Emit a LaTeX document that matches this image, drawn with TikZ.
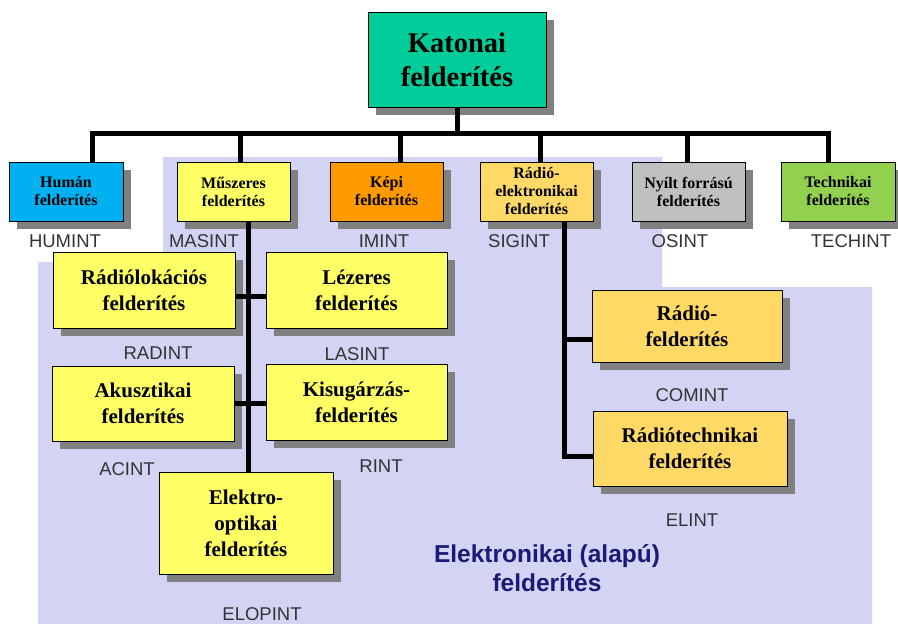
\documentclass[tikz,border=0pt]{standalone}
\usepackage{fontspec}
\setmainfont{Liberation Serif}
\setsansfont{Liberation Sans}
\usetikzlibrary{shadows}
\definecolor{lav}{RGB}{211,211,243}
\definecolor{shadowgray}{RGB}{128,128,128}
\definecolor{teal1}{RGB}{0,204,153}
\definecolor{cyan1}{RGB}{0,176,240}
\definecolor{yel}{RGB}{255,255,102}
\definecolor{orng}{RGB}{255,153,0}
\definecolor{gold}{RGB}{255,217,102}
\definecolor{grey1}{RGB}{192,192,192}
\definecolor{grn}{RGB}{146,208,80}
\definecolor{lblgray}{RGB}{51,51,51}
\definecolor{navy1}{RGB}{26,26,120}
\begin{document}
\begin{tikzpicture}[x=1pt,y=-1pt,
  box/.style={draw=black, line width=0.8pt, inner sep=0pt, align=center,
    drop shadow={shadow xshift=8pt,shadow yshift=-8pt,fill=shadowgray,opacity=1}},
  big/.style={font=\fontsize{28.5}{34}\selectfont\bfseries},
  mid/.style={font=\fontsize{16}{18}\selectfont\bfseries},
  sub/.style={font=\fontsize{21}{26}\selectfont\bfseries},
  lbl/.style={font=\sffamily\fontsize{18.5}{20}\selectfont, text=lblgray, inner sep=0pt},
  conn/.style={line width=5pt, draw=black, line join=miter}]
\useasboundingbox (0,0) rectangle (898,624);
% background region
\fill[lav] (163,157) -- (662,157) -- (662,287) -- (872,287) -- (872,624)
  -- (38,624) -- (38,262) -- (163,262) -- cycle;

% top
\node[box, big, fill=teal1, minimum width=178pt, minimum height=95pt] (kat) at (457,59.5) {Katonai\\felderítés};

% level 2
\node[box, mid, fill=cyan1, minimum width=114pt, minimum height=59pt] (hum) at (66,191.5) {Humán\\felderítés};
\node[box, mid, fill=yel, minimum width=113pt, minimum height=59pt] (mus) at (233.5,191.5) {Műszeres\\felderítés};
\node[box, mid, fill=orng, minimum width=113pt, minimum height=59pt] (kep) at (386.5,191.5) {Képi\\felderítés};
\node[box, mid, fill=gold, minimum width=113pt, minimum height=59pt] (rel) at (536.5,191.5) {Rádió-\\elektronikai\\felderítés};
\node[box, mid, fill=grey1, minimum width=113pt, minimum height=59pt] (nyi) at (688.5,191.5) {Nyílt forrású\\felderítés};
\node[box, mid, fill=grn, minimum width=114pt, minimum height=59pt] (tec) at (838,191.5) {Technikai\\felderítés};

% level 3 left
\node[box, sub, fill=yel, minimum width=182pt, minimum height=76pt] (rad) at (144,290) {Rádiólokációs\\felderítés};
\node[box, sub, fill=yel, minimum width=181pt, minimum height=76pt] (lez) at (356.5,290) {Lézeres\\felderítés};
\node[box, sub, fill=yel, minimum width=182pt, minimum height=75pt] (aku) at (143,403.5) {Akusztikai\\felderítés};
\node[box, sub, fill=yel, minimum width=181pt, minimum height=76pt] (kis) at (356.5,402) {Kisugárzás-\\felderítés};
\node[box, sub, fill=yel, minimum width=174pt, minimum height=102pt] (elo) at (246,523) {Elektro-\\optikai\\felderítés};

% level 3 right
\node[box, sub, fill=gold, minimum width=190pt, minimum height=72pt] (rf) at (687,326) {Rádió-\\felderítés};
\node[box, sub, fill=gold, minimum width=194pt, minimum height=75pt] (rt) at (690,448.5) {Rádiótechnikai\\felderítés};

% connectors
\coordinate (bL) at (92,133);
\coordinate (bR) at (828,133);
\draw[conn] (hum.north -| bL) -- (bL) -- (bR) -- (tec.north -| bR);
\draw[conn] (kat.south) -- (kat.south |- bL);
\coordinate (mt) at ([xshift=6.5pt]mus.north);
\coordinate (kt) at ([xshift=13.5pt]kep.north);
\coordinate (rlt) at ([xshift=3.5pt]rel.north);
\coordinate (nt) at ([xshift=-1.5pt]nyi.north);
\draw[conn] (mt) -- (mt |- bL);
\draw[conn] (kt) -- (kt |- bL);
\draw[conn] (rlt) -- (rlt |- bL);
\draw[conn] (nt) -- (nt |- bL);

\coordinate (ms) at ([xshift=14.5pt]mus.south);
\draw[conn] (ms) -- (ms |- elo.north);
\draw[conn] ([yshift=-6pt]rad.east) -- ([yshift=-6pt]lez.west);
\draw[conn] (aku.east) -- (aku.east -| kis.west);

\coordinate (ss) at ([xshift=27.5pt]rel.south);
\coordinate (rtw) at ([yshift=-7.5pt]rt.west);
\coordinate (rfw) at ([yshift=-13pt]rf.west);
\draw[conn] (ss) |- (rtw);
\draw[conn] (rfw) -- (rfw -| ss);

% labels
\node[lbl] (humint) at (65,241) {HUMINT};
\node[lbl] (masint) at (204,241) {MASINT};
\node[lbl] (imint) at (384,241) {IMINT};
\node[lbl] (sigint) at (519,241) {SIGINT};
\node[lbl] (osint) at (680,241) {OSINT};
\node[lbl] (techint) at (851,241) {TECHINT};
\node[lbl] (radint) at (158,353) {RADINT};
\node[lbl] (lasint) at (357,354) {LASINT};
\node[lbl] (acint) at (127,469) {ACINT};
\node[lbl] (rint) at (381,466) {RINT};
\node[lbl] (elopint) at (262,614) {ELOPINT};
\node[lbl] (comint) at (692,395) {COMINT};
\node[lbl] (elint) at (692,520) {ELINT};

\node[font=\sffamily\bfseries\fontsize{24.5}{29}\selectfont, text=navy1, align=center, inner sep=0pt] (elek) at (547,568) {Elektronikai (alapú)\\felderítés};
\end{tikzpicture}
\end{document}
